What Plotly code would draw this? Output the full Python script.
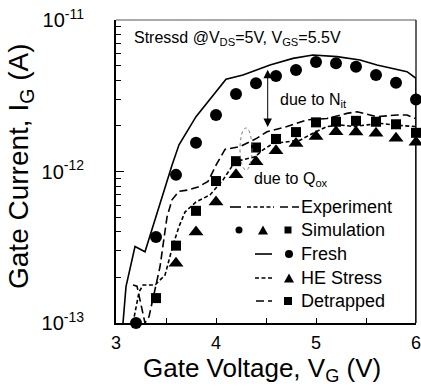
import math
import plotly.graph_objects as go

# ---------------- data ----------------
sim_x = [3.2, 3.4, 3.6, 3.8, 4.0, 4.2, 4.4, 4.6, 4.8, 5.0, 5.2, 5.4, 5.6, 5.8, 6.0]
fresh_sim = [1.0e-13, 3.7e-13, 9.5e-13, 1.55e-12, 2.36e-12, 3.25e-12, 3.82e-12, 4.27e-12,
             4.68e-12, 5.28e-12, 5.18e-12, 4.92e-12, 4.33e-12, 3.85e-12, 2.99e-12]

tri_x = [3.6, 3.8, 4.0, 4.2, 4.4, 4.6, 4.8, 5.0, 5.2, 5.4, 5.6, 5.8, 6.0]
he_sim = [2.48e-13, 3.98e-13, 6.3e-13, 9.5e-13, 1.16e-12, 1.37e-12, 1.53e-12, 1.70e-12,
          1.83e-12, 1.82e-12, 1.79e-12, 1.66e-12, 1.56e-12]

sq_x = [3.4, 3.6, 3.8, 4.0, 4.2, 4.4, 4.6, 4.8, 5.0, 5.2, 5.4, 5.6, 5.8, 6.0]
det_sim = [1.46e-13, 3.24e-13, 5.5e-13, 8.65e-13, 1.17e-12, 1.44e-12, 1.64e-12, 1.82e-12,
           2.11e-12, 2.13e-12, 2.16e-12, 2.13e-12, 2.05e-12, 1.80e-12]

fresh_exp_x = [3.07, 3.10, 3.19, 3.29, 3.56, 3.63, 3.80, 4.00, 4.10, 4.27, 4.41, 4.54, 4.77,
               4.97, 5.21, 5.44, 5.61, 5.77, 5.91, 6.0, 6.0]
fresh_exp_y = [1.0e-13, 1.74e-13, 3.2e-13, 2.95e-13, 1.1e-12, 1.5e-12, 2.3e-12, 3.37e-12,
               4.07e-12, 4.33e-12, 4.68e-12, 5.05e-12, 5.58e-12, 5.87e-12, 5.73e-12,
               5.45e-12, 5.05e-12, 4.8e-12, 4.56e-12, 4.12e-12, 1.0e-13]

he_exp_x = [3.17, 3.23, 3.27, 3.39, 3.49, 3.57, 3.63, 3.69, 3.80, 3.94, 4.07, 4.19, 4.39,
            4.47, 4.57, 4.71, 4.84, 4.97, 5.11, 5.24, 5.37, 5.51, 5.64, 5.77, 5.99]
he_exp_y = [1.0e-13, 1.6e-13, 1.78e-13, 1.78e-13, 2.07e-13, 3.27e-13, 4.33e-13, 5.4e-13,
            6.3e-13, 7.0e-13, 8.8e-13, 1.16e-12, 1.25e-12, 1.39e-12, 1.53e-12, 1.57e-12,
            1.61e-12, 1.79e-12, 1.98e-12, 2.03e-12, 1.98e-12, 2.03e-12, 2.08e-12, 2.03e-12,
            1.98e-12]

det_exp_x = [3.17, 3.21, 3.29, 3.33, 3.44, 3.51, 3.56, 3.63, 3.72, 3.82, 3.92, 4.00, 4.09,
             4.24, 4.41, 4.51, 4.71, 4.91, 5.11, 5.31, 5.41, 5.61, 5.81, 5.91, 5.99]
det_exp_y = [1.78e-13, 1.75e-13, 1.0e-13, 1.1e-13, 2.35e-13, 5.0e-13, 6.5e-13, 7.4e-13,
             7.55e-13, 7.9e-13, 8.6e-13, 1.1e-12, 1.4e-12, 1.46e-12, 1.66e-12, 1.83e-12,
             1.98e-12, 2.19e-12, 2.24e-12, 2.42e-12, 2.48e-12, 2.30e-12, 2.36e-12, 2.36e-12,
             2.24e-12]

x_ticks = [3, 4, 5, 6]
x_minor = [3.5, 4.5, 5.5]
y_ticks = [1e-13, 1e-12, 1e-11]
y_ticktext = ["10<sup>-13</sup>", "10<sup>-12</sup>", "10<sup>-11</sup>"]
y_minor = [m * 10 ** e for e in (-13, -12) for m in range(2, 10)]

legend_rows = ["Experiment", "Simulation", "Fresh", "HE Stress", "Detrapped"]

# ---------------- layout geometry (pixels) ----------------
W, H = 421, 390
L, R, T, B = 116, 416, 20, 323
PW, PH = R - L, B - T
FONT = "Liberation Sans, Arial, Helvetica, sans-serif"

def px(x):
    return (x - L) / PW

def py(y):
    return (B - y) / PH

SHORT = "4px,2.5px"
LONG = "8px,4px"

fig = go.Figure()

def line_trace(x, y, dash):
    fig.add_trace(go.Scatter(x=x, y=y, mode="lines", cliponaxis=False,
                             line=dict(color="black", width=1.6, dash=dash),
                             showlegend=False, hoverinfo="skip"))

def mark_trace(x, y, symbol, size):
    fig.add_trace(go.Scatter(x=x, y=y, mode="markers", cliponaxis=False,
                             marker=dict(symbol=symbol, size=size, color="black",
                                         line=dict(width=0)),
                             showlegend=False, hoverinfo="skip"))

line_trace(fresh_exp_x, fresh_exp_y, "solid")
line_trace(he_exp_x, he_exp_y, SHORT)
line_trace(det_exp_x, det_exp_y, LONG)
mark_trace(sim_x, fresh_sim, "circle", 12)
mark_trace(tri_x, he_sim, "triangle-up", 13)
mark_trace(sq_x, det_sim, "square", 10)

shapes = []
annotations = []

# frame top / right
shapes.append(dict(type="line", xref="paper", yref="paper", x0=0, x1=1, y0=1, y1=1,
                   line=dict(color="#555", width=1)))
shapes.append(dict(type="line", xref="paper", yref="paper", x0=1, x1=1, y0=0, y1=1,
                   line=dict(color="black", width=1.2)))

# ellipse (dotted)
cx, cy, ew, eh = 246, 149, 12, 42
shapes.append(dict(type="circle", xref="paper", yref="paper",
                   x0=px(cx - ew / 2), x1=px(cx + ew / 2), y0=py(cy + eh / 2), y1=py(cy - eh / 2),
                   line=dict(color="#777", width=1, dash="dot")))

# legend line samples
def hline(x0, x1, y, dash):
    shapes.append(dict(type="line", xref="paper", yref="paper", x0=px(x0), x1=px(x1),
                       y0=py(y), y1=py(y), line=dict(color="black", width=1.6, dash=dash)))

def circ(x, y, d):
    shapes.append(dict(type="circle", xref="paper", yref="paper", fillcolor="black",
                       line=dict(width=0), x0=px(x - d / 2), x1=px(x + d / 2),
                       y0=py(y + d / 2), y1=py(y - d / 2)))

def sq(x, y, d):
    shapes.append(dict(type="rect", xref="paper", yref="paper", fillcolor="black",
                       line=dict(width=0), x0=px(x - d / 2), x1=px(x + d / 2),
                       y0=py(y + d / 2), y1=py(y - d / 2)))

def tri(x, y, d):
    h = d * 0.9
    path = "M {} {} L {} {} L {} {} Z".format(px(x - d / 2), py(y + h / 2), px(x + d / 2),
                                              py(y + h / 2), px(x), py(y - h / 2))
    shapes.append(dict(type="path", xref="paper", yref="paper", path=path,
                       fillcolor="black", line=dict(width=0)))

row_y = [207, 230, 254, 278, 301]
hline(230, 241, row_y[0], "solid")
hline(247, 274, row_y[0], SHORT)
hline(280, 299, row_y[0], LONG)
circ(239, row_y[1], 7)
tri(263, row_y[1], 10)
sq(288, row_y[1], 7)
hline(255, 272, row_y[2], "solid")
circ(289, row_y[2], 8)
hline(255, 272, row_y[3], SHORT)
tri(289, row_y[3], 10)
hline(256, 272, row_y[4], LONG)
sq(288, row_y[4], 8)

for txt, yy in zip(legend_rows, row_y):
    annotations.append(dict(text=txt, xref="paper", yref="paper", x=px(299), y=py(yy),
                            xanchor="left", yanchor="middle", showarrow=False,
                            font=dict(size=18, color="black", family=FONT)))

# text annotations
annotations.append(dict(text="Stressd @V<sub>DS</sub>=5V, V<sub>GS</sub>=5.5V", xref="paper",
                        yref="paper", x=px(132), y=py(39), xanchor="left", yanchor="middle",
                        showarrow=False, font=dict(size=16, color="black", family=FONT)))
annotations.append(dict(text="due to N<sub>it</sub>", x=4.62, y=math.log10(2.95e-12),
                        xanchor="left", yanchor="middle", showarrow=False,
                        font=dict(size=16, color="black", family=FONT)))
annotations.append(dict(text="due to Q<sub>ox</sub>", x=4.36, y=math.log10(8.8e-13),
                        xanchor="left", yanchor="middle", showarrow=False,
                        font=dict(size=16, color="black", family=FONT)))
# double arrow
annotations.append(dict(text="", x=4.517, y=math.log10(1.97e-12), ax=4.517,
                        ay=math.log10(4.8e-12), axref="x", ayref="y", showarrow=True,
                        arrowhead=2, startarrowhead=2, arrowside="end+start", arrowsize=1.7,
                        startarrowsize=1.7, arrowwidth=1, arrowcolor="black"))

# axis titles
annotations.append(dict(text="Gate Voltage, V<sub>G</sub> (V)", xref="paper", yref="paper",
                        x=px(262), y=py(369), xanchor="center", yanchor="middle",
                        showarrow=False, font=dict(size=26, color="black", family=FONT)))
annotations.append(dict(text="Gate Current, I<sub>G</sub> (A)", xref="paper", yref="paper",
                        x=px(21), y=py(166), xanchor="center", yanchor="middle",
                        textangle=-90, showarrow=False,
                        font=dict(size=28, color="black", family=FONT)))

fig.update_layout(
    width=W, height=H, margin=dict(l=L, r=W - R, t=T, b=H - B, pad=0, autoexpand=False),
    paper_bgcolor="white", plot_bgcolor="white",
    font=dict(family=FONT, color="black"),
    shapes=shapes, annotations=annotations, showlegend=False,
    xaxis=dict(range=[3, 6], tickvals=x_ticks, ticks="inside", ticklen=5, tickwidth=1.2,
               tickcolor="black", showline=True, linecolor="black", linewidth=2,
               showgrid=False, zeroline=False, tickfont=dict(size=18, family=FONT),
               ticklabelstandoff=2, ticklabeloverflow="allow", automargin=False,
               minor=dict(tickvals=x_minor, ticks="inside", ticklen=5, tickwidth=1.2,
                          tickcolor="black", showgrid=False)),
    yaxis=dict(type="log", range=[-13, -11], tickvals=y_ticks, ticktext=y_ticktext,
               ticks="inside", ticklen=8, tickwidth=1.2, tickcolor="black",
               showline=True, linecolor="black", linewidth=2, showgrid=False,
               zeroline=False, tickfont=dict(size=20, family=FONT), ticklabelstandoff=26,
               ticklabeloverflow="allow", automargin=False,
               minor=dict(tickvals=y_minor, ticks="inside", ticklen=5, tickwidth=1.2,
                          tickcolor="black", showgrid=False)),
)

fig.write_html("out.html")
